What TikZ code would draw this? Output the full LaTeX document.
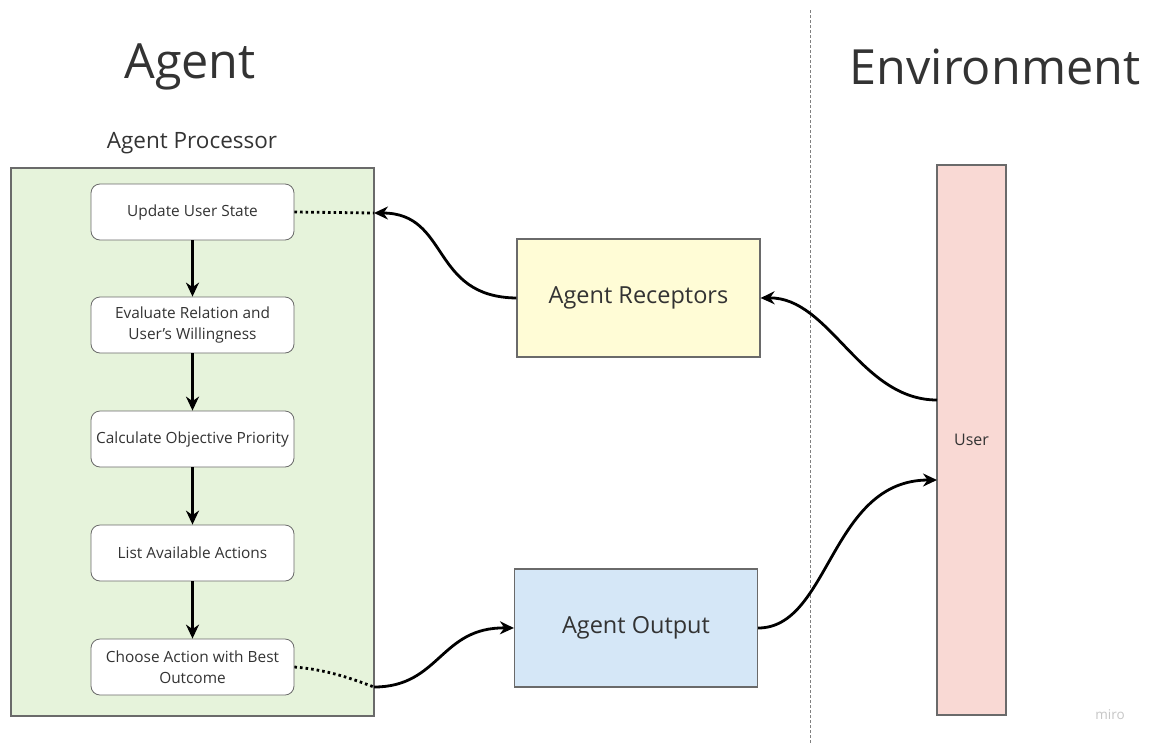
\documentclass[tikz,border=0pt]{standalone}
\usepackage{fontspec}
\setmainfont{Open Sans}
\usetikzlibrary{arrows.meta}
\definecolor{txt}{HTML}{333333}
\definecolor{greenfill}{HTML}{E6F3DB}
\definecolor{yellowfill}{HTML}{FFFCD6}
\definecolor{bluefill}{HTML}{D5E7F7}
\definecolor{pinkfill}{HTML}{F9D9D4}
\definecolor{edge}{HTML}{6A6A6A}
\tikzset{
  stepbox/.style={draw=edge, line width=0.8pt, fill=white, rounded corners=9pt,
    minimum width=203pt, minimum height=56pt, align=center, text=txt,
    font=\fontsize{15.4}{21}\selectfont, inner sep=0pt},
  bigbox/.style={draw=edge, line width=1.2pt, minimum width=243pt, minimum height=118pt,
    text=txt, font=\fontsize{23.5}{28}\selectfont, inner sep=0pt},
  flow/.style={-{Stealth[length=14pt,width=13pt]}, line width=2.8pt},
  link/.style={line width=2.8pt, dash pattern=on 2.6pt off 3pt},
  curve/.style={-{Stealth[length=14pt,width=13pt]}, line width=2.8pt},
}
\begin{document}
\begin{tikzpicture}[x=1pt,y=-1pt]
\useasboundingbox (0,0) rectangle (1150,744);

% titles
\node[text=txt, font=\fontsize{48.5}{56}\selectfont] (tagent) at (190,67) {Agent};
\node[text=txt, font=\fontsize{48.5}{56}\selectfont] (tenv) at (995,67) {Environment};
\node[text=txt, font=\fontsize{22.5}{27}\selectfont] (tproc) at (192,143) {Agent Processor};

% boundary between agent and environment
\coordinate (btop) at (810,10);
\coordinate (bbot) at (810,744);
\draw[dash pattern=on 3pt off 2pt, draw=gray, line width=0.8pt] (btop) -- (bbot);

% agent processor panel
\node[draw=edge, line width=1.2pt, fill=greenfill, minimum width=363pt, minimum height=548pt, inner sep=0pt] (proc) at (192.5,442) {};

% processing steps
\node[stepbox] (s1) at (192.5,212) {Update User State};
\node[stepbox] (s2) at (192.5,325) {Evaluate Relation and\\User's Willingness};
\node[stepbox] (s3) at (192.5,439) {Calculate Objective Priority};
\node[stepbox] (s4) at (192.5,553) {List Available Actions};
\node[stepbox] (s5) at (192.5,667) {Choose Action with Best\\Outcome};

\draw[flow] (s1) -- (s2);
\draw[flow] (s2) -- (s3);
\draw[flow] (s3) -- (s4);
\draw[flow] (s4) -- (s5);

% receptors and output
\node[bigbox, fill=yellowfill] (rec) at (638.5,298) {Agent Receptors};
\node[bigbox, fill=bluefill] (out) at (636,628) {Agent Output};

% user
\node[draw=edge, line width=1.2pt, fill=pinkfill, minimum width=69pt, minimum height=550pt, inner sep=0pt,
  text=txt, font=\fontsize{16}{19}\selectfont] (user) at (971.5,440) {User};

% connectors
\coordinate (inport) at (374,213);
\coordinate (outport) at (374,687);
\coordinate (uin) at (937,400);
\coordinate (uout) at (937,480);

\draw[curve] (uin) .. controls (860,400) and (830,297) .. (rec.east);
\draw[curve] (rec.west) .. controls (430,297) and (450,213) .. (inport);
\draw[link] (s1.east) -- (inport);

\draw[link] (s5.east) .. controls (330,670) and (355,680) .. (outport);
\draw[curve] (outport) .. controls (440,687) and (440,627) .. (out.west);
\draw[curve] (out.east) .. controls (830,628) and (830,480) .. (uout);

% watermark
\node[text=gray!45, font=\fontsize{13.5}{16}\selectfont] (wm) at (1110,715) {miro};
\end{tikzpicture}
\end{document}
